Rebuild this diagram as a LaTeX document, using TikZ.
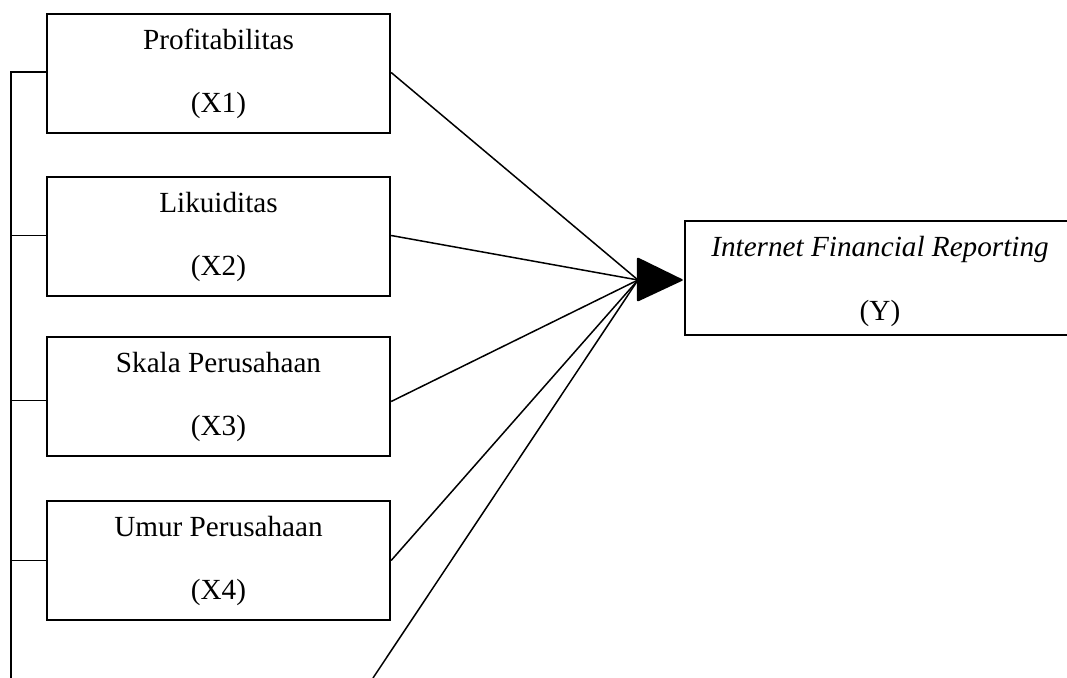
\documentclass[tikz,border=0pt]{standalone}
\usepackage{fontspec}
\setmainfont{Liberation Serif}
\usetikzlibrary{calc}
\begin{document}
\begin{tikzpicture}[x=0.5pt,y=-0.5pt,
  varbox/.style={draw=black, line width=1.15pt, rectangle, minimum width=171.5pt, minimum height=59.5pt, inner sep=0pt},
  lbl/.style={font=\fontsize{14.6}{17}\selectfont, anchor=base, inner sep=0pt},
  conn/.style={draw=black, line width=0.75pt},
  brk/.style={draw=black, line width=0.55pt}]
\clip (0,0) rectangle (1067,678);
\useasboundingbox (0,0) rectangle (1067,678);
% boxes
\node[varbox] (x1) at (218.5,73.5) {};
\node[varbox] (x2) at (218.5,236.5) {};
\node[varbox] (x3) at (218.5,396.5) {};
\node[varbox] (x4) at (218.5,560.5) {};
\node[varbox, minimum width=195pt, minimum height=57pt] (y) at (880,278) {};
% labels
\node[lbl] (x1a) at ($(x1.north)+(0,37)$) {Profitabilitas};
\node[lbl] (x1b) at ($(x1.north)+(0,100)$) {(X1)};
\node[lbl] (x2a) at ($(x2.north)+(0,37)$) {Likuiditas};
\node[lbl] (x2b) at ($(x2.north)+(0,100)$) {(X2)};
\node[lbl] (x3a) at ($(x3.north)+(0,37)$) {Skala Perusahaan};
\node[lbl] (x3b) at ($(x3.north)+(0,100)$) {(X3)};
\node[lbl] (x4a) at ($(x4.north)+(0,37)$) {Umur Perusahaan};
\node[lbl] (x4b) at ($(x4.north)+(0,100)$) {(X4)};
\node[lbl] (ya) at ($(y.north)+(0,37)$) {\itshape Internet Financial Reporting};
\node[lbl] (yb) at ($(y.north)+(0,101)$) {(Y)};
% hub and arrowhead
\coordinate (hub) at (638,280);
\coordinate (x5) at (373,678);
\fill[black, rounded corners=1pt] ($(y.west)+(0,2)$) -- ($(y.west)+(-47,-21)$) -- ($(y.west)+(-47,24)$) -- cycle;
% connectors
\draw[conn] ($(x1.east)+(0,-1)$) -- (hub);
\draw[conn] ($(x2.east)+(0,-1)$) -- (hub);
\draw[conn] ($(x3.east)+(0,5)$) -- (hub);
\draw[conn] (x4.east) -- (hub);
\draw[conn] (x5) -- (hub);
% bracket on the left
\coordinate (btop) at (11,72);
\coordinate (bbot) at (11,678);
\draw[brk] (bbot) -- (btop) -- (btop -| x1.west);
\draw[brk] ($(x2.west)+(0,-1)$) -- ($(x2.west -| btop)+(0,-1)$);
\draw[brk] ($(x3.west)+(0,4)$) -- ($(x3.west -| btop)+(0,4)$);
\draw[brk] (x4.west) -- (x4.west -| btop);
\end{tikzpicture}
\end{document}
